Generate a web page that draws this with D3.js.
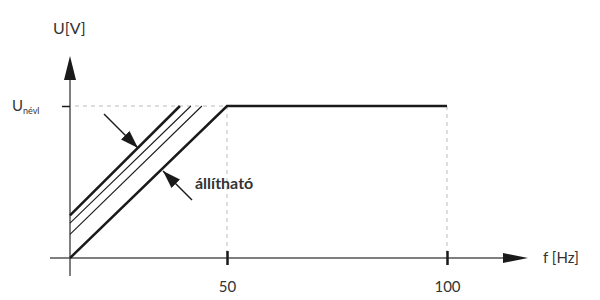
<!DOCTYPE html>
<html>
<head>
<meta charset="utf-8">
<script src="https://cdn.jsdelivr.net/npm/d3@7"></script>
<style>
    body { margin: 0; background: #fff; }
    svg { display: block; font-family: Lato, 'Open Sans', sans-serif; }
</style>
</head>
<body>
<svg id="Chart" width="600" height="300"></svg>
<script>
// frequency axis is schematic: 0..50 is shorter than 50..100
var freqKnots = [0, 50, 100];
var freqTicks = [50, 100];
var uTicks = [1];
// main U/f curve
var mainF = [0, 50, 100];
var mainU = [0, 1, 1];
// adjustable (shifted) boost lines
var shiftF0 = [0, 0, 0];
var shiftU0 = [0.28, 0.23, 0.155];
var shiftF1 = [35, 38.5, 42];
var shiftU1 = [1, 1, 1];
var shiftBold = [true, false, false];

var svg = d3.select('#Chart');
var x = d3.scaleLinear().domain(freqKnots).range([70, 227, 447]);
var y = d3.scaleLinear().domain([0, 1]).range([258, 106]);
var axisColor = '#555';
var ink = '#1a1a1a';

var defs = svg.append('defs');
defs.append('marker')
    .attr('id', 'head')
    .attr('viewBox', '0 0 10 10')
    .attr('refX', 10)
    .attr('refY', 5)
    .attr('markerUnits', 'userSpaceOnUse')
    .attr('markerWidth', 18)
    .attr('markerHeight', 12)
    .attr('preserveAspectRatio', 'none')
    .attr('orient', 'auto')
    .append('path')
    .attr('d', 'M0,0 L10,5 L0,10 Z')
    .attr('fill', ink);

// dashed guides
var guide = svg.append('g')
    .attr('stroke', '#bbb')
    .attr('stroke-width', 1)
    .attr('stroke-dasharray', '4,4');
guide.append('line')
    .attr('x1', x(0) + 5).attr('x2', x(50))
    .attr('y1', y(1)).attr('y2', y(1));
freqTicks.forEach(function (f) {
    guide.append('line')
        .attr('x1', x(f)).attr('x2', x(f))
        .attr('y1', y(1)).attr('y2', y(0));
});

// axes
var axes = svg.append('g');
axes.append('line')
    .attr('x1', 50).attr('x2', 505)
    .attr('y1', y(0)).attr('y2', y(0))
    .attr('stroke', axisColor).attr('stroke-width', 1.5);
axes.append('path')
    .attr('d', 'M503,' + (y(0) - 5) + ' L528,' + y(0) + ' L503,' + (y(0) + 5) + ' Z')
    .attr('fill', ink);
axes.append('line')
    .attr('x1', x(0)).attr('x2', x(0))
    .attr('y1', 276).attr('y2', 78)
    .attr('stroke', axisColor).attr('stroke-width', 1.5);
axes.append('path')
    .attr('d', 'M' + (x(0) - 6) + ',80 L' + x(0) + ',56 L' + (x(0) + 6) + ',80 Z')
    .attr('fill', ink);

var xAxis = d3.axisBottom(x).tickValues(freqTicks).tickSize(0).tickPadding(0);
var gx = svg.append('g')
    .attr('transform', 'translate(0,' + y(0) + ')')
    .call(xAxis);
gx.select('.domain').remove();
gx.selectAll('.tick line')
    .attr('y1', -7).attr('y2', 7)
    .attr('stroke', ink).attr('stroke-width', 2.5);
gx.selectAll('.tick text')
    .attr('y', 23)
    .attr('dy', '0.71em')
    .attr('font-size', 15)
    .attr('font-family', "Lato, 'Open Sans', sans-serif")
    .attr('fill', '#333');

var yAxis = d3.axisLeft(y).tickValues(uTicks).tickSize(8).tickFormat('');
var gy = svg.append('g')
    .attr('transform', 'translate(' + x(0) + ',0)')
    .call(yAxis);
gy.select('.domain').remove();
gy.selectAll('.tick line').attr('stroke', ink).attr('stroke-width', 1.5);

var uLabel = svg.append('text')
    .attr('x', 12).attr('y', y(1) + 5)
    .attr('font-size', 15)
    .attr('fill', '#333');
uLabel.append('tspan').text('U');
uLabel.append('tspan').attr('dy', 3).attr('font-size', 9).text('névl');

svg.append('text')
    .attr('x', 53).attr('y', 34)
    .attr('font-size', 16)
    .attr('fill', '#333')
    .text('U[V]');
svg.append('text')
    .attr('x', 543).attr('y', 263)
    .attr('font-size', 15)
    .attr('fill', '#333')
    .text('f [Hz]');

// curves
var line = d3.line()
    .x(function (d) { return x(d[0]); })
    .y(function (d) { return y(d[1]); });
var curves = svg.append('g').attr('fill', 'none').attr('stroke', ink);
shiftU0.forEach(function (u0, i) {
    curves.append('path')
        .attr('d', line([[shiftF0[i], u0], [shiftF1[i], shiftU1[i]]]))
        .attr('stroke-width', shiftBold[i] ? 2.5 : 1.1);
});
curves.append('path')
    .attr('d', line(mainF.map(function (f, i) { return [f, mainU[i]]; })))
    .attr('stroke-width', 2.5);

// "állítható" arrows
var pointers = svg.append('g')
    .attr('stroke', ink)
    .attr('stroke-width', 1.5)
    .attr('marker-end', 'url(#head)');
pointers.append('line')
    .attr('x1', 104).attr('y1', 114)
    .attr('x2', 138).attr('y2', 148);
pointers.append('line')
    .attr('x1', 192).attr('y1', 200)
    .attr('x2', 163).attr('y2', 171);

svg.append('text')
    .attr('x', 195).attr('y', 189)
    .attr('font-size', 16)
    .attr('font-weight', 'bold')
    .attr('fill', '#333')
    .text('állítható');
</script>
</body>
</html>
